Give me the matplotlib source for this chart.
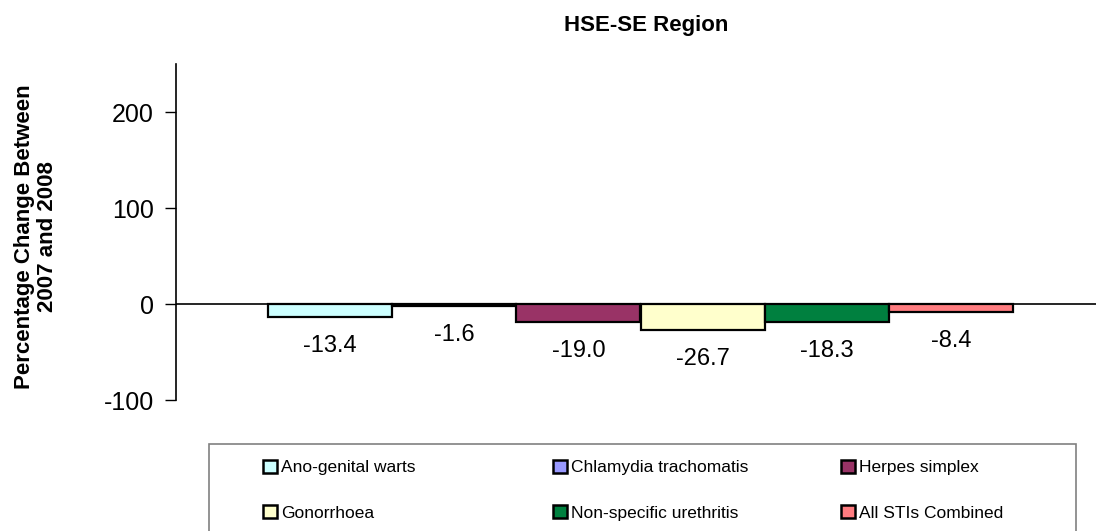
import matplotlib
matplotlib.use("Agg")
import matplotlib.pyplot as plt
from matplotlib import font_manager
from matplotlib.patches import Rectangle, Patch

# narrow font if present, else normal Liberation Sans
def pick_font():
    for name in ["Liberation Sans Narrow", "Liberation Sans", "DejaVu Sans"]:
        try:
            font_manager.findfont(name, fallback_to_default=False)
            return name
        except Exception:
            pass
    return "DejaVu Sans"

fam = pick_font()
plt.rcParams['font.family'] = [fam, 'DejaVu Sans']
plt.rcParams['axes.unicode_minus'] = False

# data
infections = ["Ano-genital warts", "Chlamydia trachomatis", "Herpes simplex",
              "Gonorrhoea", "Non-specific urethritis", "All STIs Combined"]
pct_change = [-13.4, -1.6, -19.0, -26.7, -18.3, -8.4]
colours = ["#ccffff", "#9999ff", "#993366", "#ffffcc", "#00803f", "#ff7c80"]
yticks = [-100, 0, 100, 200]

W, H = 1096, 531
fig = plt.figure(figsize=(W / 100, H / 100), dpi=100)
ax = fig.add_axes([176 / W, 1 - 400 / H, (W - 176) / W, 336 / H])

xs = range(len(pct_change))
ax.bar(xs, pct_change, width=1, align='edge', color=colours,
       edgecolor='black', linewidth=1.6, zorder=3)
for i, v in enumerate(pct_change):
    ax.annotate(f"{v:.1f}", (i + 0.5, v), xytext=(0, -29),
                textcoords='offset pixels', ha='center', va='center',
                fontsize=17)

ax.axhline(0, color='black', lw=1.2, zorder=4)
bw = (1013 - 268) / 6
ax.set_xlim((176 - 268) / bw, (W - 268) / bw)
ax.set_ylim(-100, 250)
ax.set_yticks(yticks)
ax.tick_params(axis='y', labelsize=18, length=8, width=1, direction='out', pad=8)
ax.set_xticks([])
for s in ['top', 'right', 'bottom']:
    ax.spines[s].set_visible(False)
ax.spines['left'].set_linewidth(1.2)

fig.text(36 / W, 1 - 237 / H, "Percentage Change Between\n2007 and 2008",
         rotation=90, ha='center', va='center', multialignment='center',
         fontsize=16, fontweight='bold', linespacing=1.1)
fig.text(646 / W, 1 - 26 / H, "HSE-SE Region", ha='center', va='center',
         fontsize=16, fontweight='bold')

# legend frame
fig.patches.append(Rectangle((209 / W, -0.05), (1076 - 209) / W, 0.05 + 1 - 444 / H,
                             transform=fig.transFigure, fill=False,
                             edgecolor='#808080', lw=1.2))
col_x = [263, 553, 841]
for c in range(3):
    hs = [Patch(facecolor=colours[k], edgecolor='black', lw=1.8)
          for k in (c, c + 3)]
    fig.legend(hs, [infections[c], infections[c + 3]], loc='upper left',
               bbox_to_anchor=(col_x[c] / W, 1 - 459.5 / H), frameon=False,
               fontsize=12.5, borderpad=0, borderaxespad=0, handlelength=0.8,
               handleheight=0.8, handletextpad=0.25, labelspacing=1.72)

fig.savefig("out.png", dpi=100)
